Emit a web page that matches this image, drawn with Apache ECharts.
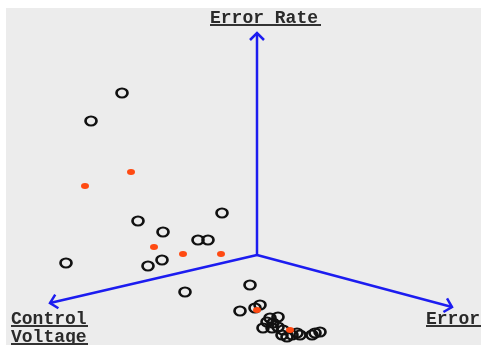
<!DOCTYPE html>
<html>
<head>
<meta charset="utf-8">
<script src="https://cdn.jsdelivr.net/npm/echarts@6/dist/echarts.min.js"></script>
<style>
  html, body { margin: 0; padding: 0; background: #fff; }
  #chart { width: 481px; height: 345px; }
</style>
</head>
<body>
<div id="chart"></div>
<script>
// Projected plot-plane coordinates; (0,0) is where the three axes meet.
const axisNames = ['Error Rate', 'Control', 'Voltage', 'Error'];
const axisTips = [[0, 222], [-207, -48], [195, -52]];

// Measured runs (hollow rings)
const ringPoints = [
  [-135, 162], [-166, 134], [-35, 42], [-119, 34], [-94, 23],
  [-59, 15], [-49, 15], [-191, -8], [-95, -5], [-109, -11],
  [-72, -37], [-7, -30], [-17, -56], [-2, -53], [3, -50],
  [21, -62], [13, -63], [10, -67], [16, -68], [6, -73],
  [15, -73], [21, -72], [26, -75], [25, -80], [30, -82],
  [35, -80], [40, -78], [43, -80], [55, -80], [58, -78], [63, -77]
];

// Reference runs (filled dots)
const dotPoints = [
  [-172, 69], [-126, 83], [-103, 8], [-74, 1], [-36, 1],
  [0, -55], [33, -75]
];

const chart = echarts.init(document.getElementById('chart'));

const labelFont = 'bold 18px "Liberation Mono", "DejaVu Sans Mono", monospace';

function label(text, x, y, w) {
  return [
    { type: 'text', left: x, top: y,
      style: { text: text, font: labelFont, fill: '#2a2a2a' } },
    { type: 'rect', shape: { x: x, y: y + 15, width: w, height: 2 },
      style: { fill: '#333' } }
  ];
}

chart.setOption({
  backgroundColor: '#ffffff',
  animation: false,
  graphic: [
    { type: 'rect', shape: { x: 6, y: 8, width: 475, height: 337 }, style: { fill: '#ececec' }, z: -10 }
  ].concat(
    label(axisNames[0], 210, 9, 111),
    label(axisNames[1], 11, 310, 77),
    label(axisNames[2], 11, 328, 77),
    label(axisNames[3], 426, 310, 55)
  ),
  grid: { left: 0, right: 0, top: 0, bottom: 0 },
  xAxis: { type: 'value', min: -257, max: 224, show: false },
  yAxis: { type: 'value', min: -90, max: 255, show: false },
  series: [
    {
      type: 'custom',
      data: axisTips,
      silent: true,
      z: 1,
      renderItem: function (params, api) {
        const o = api.coord([0, 0]);
        const t = api.coord([api.value(0), api.value(1)]);
        const dx = t[0] - o[0], dy = t[1] - o[1];
        const len = Math.sqrt(dx * dx + dy * dy);
        const ux = dx / len, uy = dy / len;
        const nx = -uy, ny = ux;
        const back = 7, half = 7;
        return {
          type: 'group',
          children: [
            { type: 'line', shape: { x1: o[0], y1: o[1], x2: t[0], y2: t[1] },
              style: { stroke: '#1c1cf0', lineWidth: 2.5 } },
            { type: 'polyline',
              shape: { points: [
                [t[0] - ux * back + nx * half, t[1] - uy * back + ny * half],
                [t[0], t[1]],
                [t[0] - ux * back - nx * half, t[1] - uy * back - ny * half]
              ] },
              style: { stroke: '#1c1cf0', lineWidth: 2.5, fill: null } }
          ]
        };
      }
    },
    {
      type: 'scatter',
      data: ringPoints,
      symbol: 'circle',
      symbolSize: [11, 9],
      z: 3,
      itemStyle: { color: 'rgba(0,0,0,0)', borderColor: '#111', borderWidth: 2.4, opacity: 1 }
    },
    {
      type: 'scatter',
      data: dotPoints,
      symbol: 'circle',
      symbolSize: [8, 6],
      z: 4,
      itemStyle: { color: '#ff4a12', opacity: 1 }
    }
  ]
});
</script>
</body>
</html>
